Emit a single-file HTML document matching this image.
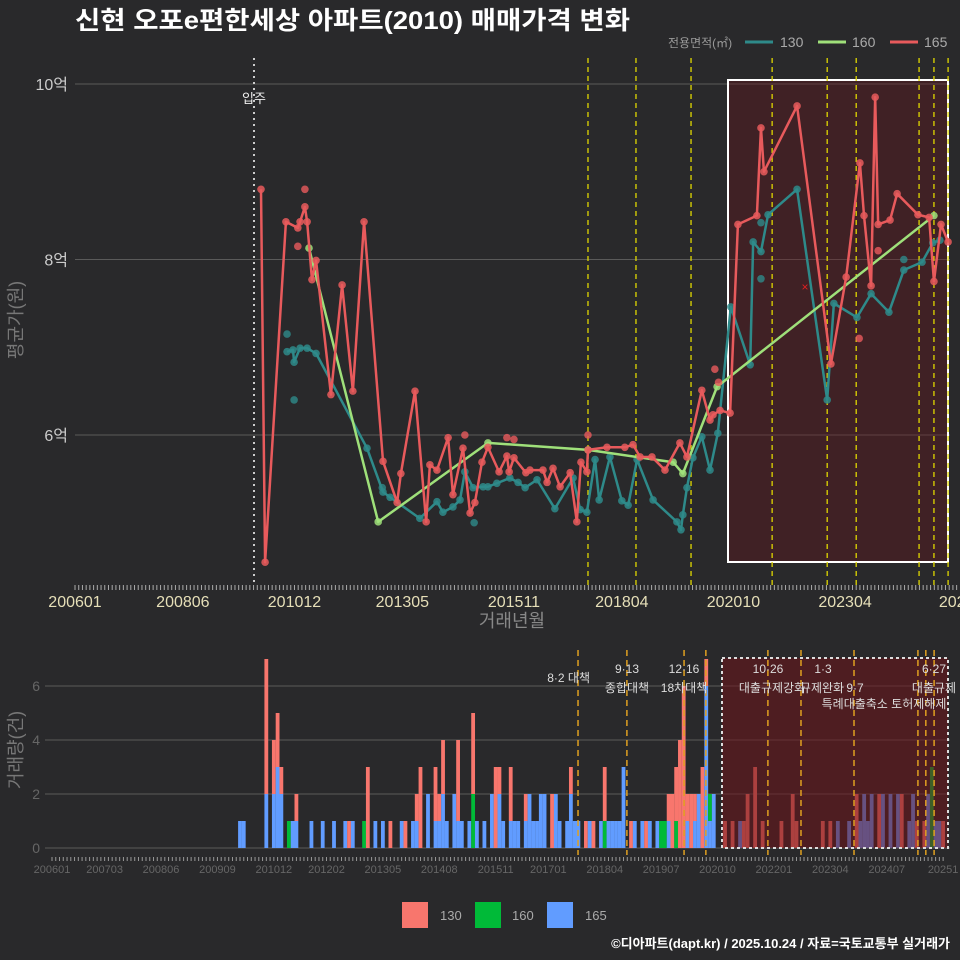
<!DOCTYPE html>
<html><head><meta charset="utf-8">
<style>
body{margin:0;background:#29292b;}
svg{display:block;font-family:"Liberation Sans","Noto Sans CJK KR",sans-serif;}
</style></head>
<body>
<svg id="chart" width="960" height="960" viewBox="0 0 960 960" xmlns="http://www.w3.org/2000/svg">
<rect width="960" height="960" fill="#29292b"/>
<text x="75" y="29" fill="#fff" font-size="25" font-weight="bold" textLength="555" lengthAdjust="spacingAndGlyphs">신현 오포e편한세상 아파트(2010) 매매가격 변화</text>
<g font-size="14">
<text x="668" y="47" fill="#999" font-size="12">전용면적(㎡)</text>
<line x1="745" y1="42" x2="773" y2="42" stroke="#2e8a8a" stroke-width="3"/>
<text x="780" y="47" fill="#aaa">130</text>
<line x1="818" y1="42" x2="846" y2="42" stroke="#9fe07a" stroke-width="3"/>
<text x="852" y="47" fill="#aaa">160</text>
<line x1="890" y1="42" x2="918" y2="42" stroke="#e85a5c" stroke-width="3"/>
<text x="924" y="47" fill="#aaa">165</text>
</g>
<text transform="translate(22,320) rotate(-90)" text-anchor="middle" fill="#777" font-size="18">평균가(원)</text>
<text x="512" y="627" text-anchor="middle" fill="#888" font-size="18">거래년월</text>
<text transform="translate(22,750) rotate(-90)" text-anchor="middle" fill="#777" font-size="18">거래량(건)</text>
<g id="top"></g>
<g id="bot"></g>
<g font-size="13">
<rect x="402" y="902" width="26" height="26" fill="#f8766d"/>
<text x="440" y="920" fill="#aaa">130</text>
<rect x="475" y="902" width="26" height="26" fill="#00ba38"/>
<text x="512" y="920" fill="#aaa">160</text>
<rect x="547" y="902" width="26" height="26" fill="#619cff"/>
<text x="585" y="920" fill="#aaa">165</text>
</g>
<text x="950" y="948" text-anchor="end" fill="#fff" font-size="13" font-weight="bold">©디아파트(dapt.kr) / 2025.10.24 / 자료=국토교통부 실거래가</text>
</svg>
<script>
// months since 2006-01, price in 억
const redMonths=[50.0,51.1,56.7,59.9,60.5,61.8,62.4,63.7,64.8,68.8,71.8,74.7,77.7,82.8,86.6,87.6,91.4,94.4,95.4,97.3,100.3,101.6,104.3,106.2,107.5,109.4,111.0,114.0,116.1,116.7,118.0,121.2,122.3,125.8,126.9,128.5,130.4,133.1,134.9,136.0,137.6,137.9,143.0,147.8,150.0,151.9,155.1,158.6,162.6,164.5,168.5,170.7,171.5,173.4,176.1,178.2,183.3,184.4,185.2,194.1,203.2,207.3,211.0,212.1,214.0,215.1,215.9,219.1,221.0,226.6,229.6,230.9,232.8,234.7];
const redValues=[8.80,4.55,8.43,8.36,8.43,8.60,8.43,7.77,7.99,6.46,7.71,6.50,8.43,5.70,5.23,5.56,6.50,5.01,5.66,5.60,5.97,5.32,5.85,5.11,5.23,5.69,5.86,5.58,5.76,5.58,5.74,5.57,5.60,5.60,5.46,5.62,5.41,5.57,5.01,5.69,5.58,5.83,5.86,5.86,5.89,5.75,5.75,5.60,5.91,5.75,6.51,6.17,6.23,6.28,6.25,8.40,8.50,9.50,9.00,9.75,6.81,7.80,9.10,8.50,7.70,9.85,8.40,8.45,8.75,8.51,8.48,7.75,8.40,8.20];
const redExtraMonths=[61.8,59.9,104.8,116.1,118.0,137.9,172.0,173.0,210.8,215.9];
const redExtraValues=[8.80,8.15,6.00,5.97,5.95,6.00,6.75,6.60,7.10,8.10];
const tealMonths=[57.0,58.6,58.9,60.5,62.4,64.8,78.5,82.8,84.7,92.7,97.3,98.9,101.6,103.5,104.8,107.0,109.7,111.0,113.4,116.9,119.1,121.0,124.2,129.0,133.9,135.8,137.6,139.8,140.9,143.8,147.0,148.7,151.1,155.4,161.8,162.9,163.4,164.5,166.1,168.5,170.7,172.8,176.3,181.5,182.3,184.4,186.3,194.1,202.2,204.0,210.2,214.0,218.8,222.8,227.7,230.6,232.5];
const tealValues=[6.95,6.97,6.83,6.99,6.99,6.93,5.85,5.35,5.29,5.05,5.24,5.12,5.18,5.26,5.58,5.40,5.41,5.41,5.45,5.51,5.46,5.40,5.49,5.16,5.51,5.15,5.12,5.72,5.26,5.75,5.25,5.20,5.72,5.26,5.01,4.92,5.09,5.40,5.74,5.98,5.60,6.02,7.46,6.80,8.20,8.09,8.51,8.80,6.40,7.50,7.34,7.61,7.40,7.88,7.97,8.19,8.22];
const tealExtraMonths=[57.0,58.9,82.6,107.3,184.4,184.4,222.8];
const tealExtraValues=[7.15,6.40,5.40,5.00,7.78,8.42,8.00];
const greenMonths=[62.9,81.5,111.0,137.9,160.8,163.4,172.6,230.9];
const greenValues=[8.13,5.01,5.91,5.83,5.69,5.56,6.55,8.50];
const yTicks=[6,8,10];
const yTickLabels=["6억","8억","10억"];
const xTickMonths=[0,29,59,88,118,147,177,207,237];
const xTickLabels=["200601","200806","201012","201305","201511","201804","202010","202304","2025"];
const eventMonthsTop=[137.9,150.8,165.6,187.4,202.2,210.0,226.9,230.9,234.7];
// volume
const barMonths=[50,51,57,59,60,61,63,64,65,69,72,75,78,79,80,83,84,86,88,90,93,94,96,97,98,100,102,103,104,105,107,108,109,111,112,113,115,117,118,119,120,122,123,124,126,127,128,129,130,131,133,134,135,137,138,139,140,142,143,144,146,147,148,149,150,151,152,154,155,157,158,159,161,162,163,164,165,166,167,168,169,170,171,172,173,174,175,176,179,181,183,184,185,187,189,194,197,198,205,207,209,212,214,215,216,217,218,220,221,223,225,226,228,229,230,232,233,234,235,236,237];
const vol130=[0,0,5,2,2,1,0,0,1,0,0,0,0,1,0,0,3,0,0,1,0,1,0,1,3,0,2,1,2,0,0,3,0,0,3,0,0,0,3,1,0,2,0,0,1,0,0,0,0,0,2,0,0,0,1,0,0,1,0,1,0,2,0,0,0,0,0,1,0,0,1,0,0,0,0,1,2,2,4,6,1,2,1,0,3,1,0,0,1,1,0,1,2,3,1,1,2,1,1,1,0,0,2,0,0,0,0,2,0,0,0,2,0,0,1,1,0,0,0,0,1];
const vol160=[0,0,0,0,0,0,1,0,0,0,0,0,0,0,0,1,0,0,0,0,0,0,0,0,0,0,0,0,0,0,0,0,0,0,2,0,0,0,0,0,0,0,0,0,0,0,0,0,0,0,0,0,0,0,0,0,0,0,0,0,0,1,0,0,0,0,0,0,0,0,0,0,0,1,1,0,0,1,0,0,0,0,0,0,0,0,1,0,0,0,0,0,0,0,0,0,0,0,0,0,0,0,0,0,0,0,0,0,0,0,0,0,0,0,0,0,0,3,0,0,0];
const vol165=[1,1,2,2,3,2,0,1,1,1,1,1,1,0,1,0,0,1,1,0,1,0,1,1,0,2,1,1,2,1,2,1,1,1,0,1,1,2,0,2,1,1,1,1,1,2,1,1,2,2,0,2,1,1,2,1,1,0,1,0,1,0,1,1,1,1,3,0,1,1,0,1,1,0,0,1,0,0,0,0,1,0,1,2,0,6,1,2,0,0,1,0,0,0,0,0,0,0,0,0,1,1,0,1,2,1,2,0,2,2,2,0,1,2,0,0,2,0,1,1,0];
const volTicks=[0,2,4,6];
const eventMonthsBot=[139.9,152.9,168.1,173.9,190.4,199.2,213.3,230.3,232.4,234.6];
const botTickMonths=[0,14,29,44,59,73,88,103,118,132,147,162,177,192,207,222,237];
const botTickLabels=["200601","200703","200806","200909","201012","201202","201305","201408","201511","201701","201804","201907","202010","202201","202304","202407","20251"];

const NS="http://www.w3.org/2000/svg";
function mk(parent,tag,attrs){const e=document.createElementNS(NS,tag);for(const k in attrs)e.setAttribute(k,attrs[k]);parent.appendChild(e);return e;}
const topG=document.getElementById('top'), botG=document.getElementById('bot');
const xT=m=>75+3.72*m, yT=v=>435-(v-6)*87.75;
const xB=m=>52+3.76*m, yB=c=>848-27*c;

yTicks.forEach((t,i)=>{
 let l=mk(topG,'line',{x1:75,x2:950,y1:yT(t),y2:yT(t),stroke:'#5a5a5a','stroke-width':1});
 
 
 let tx=mk(topG,'text',{x:68,y:yT(t)+6,'text-anchor':'end',fill:'#ccc','font-size':16});
 tx.textContent=yTickLabels[i];
 
 
});
let hb=mk(topG,'rect',{x:728,y:80,width:220,height:482,fill:'rgba(110,20,25,0.35)',stroke:'#fff','stroke-width':2});


let mv=mk(topG,'line',{x1:254,x2:254,y1:58,y2:585,stroke:'#ccc','stroke-width':2,'stroke-dasharray':'2,4'});


let mvt=mk(topG,'text',{x:254,y:103,'text-anchor':'middle',fill:'#eee','font-size':13});
mvt.textContent='입주';


eventMonthsTop.forEach(m=>{
 let l=mk(topG,'line',{x1:xT(m),x2:xT(m),y1:58,y2:585,stroke:'#e0d800','stroke-width':1.3,'stroke-dasharray':'5,4'});
 
 
});
for(let m=0;m<=237;m++){
 let l=mk(topG,'line',{x1:xT(m),x2:xT(m),y1:585,y2:590,stroke:'#aaa','stroke-width':1});
 
 
}
xTickMonths.forEach((m,i)=>{
 let t=mk(topG,'text',{x:xT(m),y:607,'text-anchor':'middle',fill:'#e6dfb8','font-size':16});
 t.textContent=xTickLabels[i];
 
 
});
function series(ms,vs,color,name,extraM,extraV){
 const pts=ms.map((m,i)=>xT(m)+','+yT(vs[i])).join(' ');
 let pl=mk(topG,'polyline',{points:pts,fill:'none',stroke:color,'stroke-width':2.5,'stroke-linejoin':'round'});
 
 
 ms.forEach((m,i)=>{
  let c=mk(topG,'circle',{cx:xT(m),cy:yT(vs[i]),r:3.8,fill:color,opacity:0.85});
  
  
 });
 (extraM||[]).forEach((m,i)=>{
  let c=mk(topG,'circle',{cx:xT(m),cy:yT(extraV[i]),r:3.8,fill:color,opacity:0.8});
  
  
 });
}
series(tealMonths,tealValues,'#2e8a8a','series-130',tealExtraMonths,tealExtraValues);
series(greenMonths,greenValues,'#9fe07a','series-160');
series(redMonths,redValues,'#e85a5c','series-165',redExtraMonths,redExtraValues);
let xm=mk(topG,'text',{x:805,y:291,'text-anchor':'middle',fill:'#e02020','font-size':12});
xm.textContent='×';



volTicks.forEach(t=>{
 let l=mk(botG,'line',{x1:45,x2:950,y1:yB(t),y2:yB(t),stroke:'#5a5a5a','stroke-width':1});
 
 
 let tx=mk(botG,'text',{x:40,y:yB(t)+5,'text-anchor':'end',fill:'#666','font-size':14});
 tx.textContent=t;
 
 
});
barMonths.forEach((m,i)=>{
 let base=0;
 [[vol165,'#619cff','bar-165'],[vol160,'#00ba38','bar-160'],[vol130,'#f8766d','bar-130']].forEach(([arr,col,nm])=>{
  const v=arr[i]; if(!v) return;
  let r=mk(botG,'rect',{x:xB(m)-1.9,y:yB(base+v),width:3.8,height:27*v,fill:col});
  
  
  base+=v;
 });
});
let bh=mk(botG,'rect',{x:722,y:658,width:226,height:190,fill:'rgba(110,20,25,0.55)',stroke:'#ddd','stroke-width':2,'stroke-dasharray':'3,3'});


eventMonthsBot.forEach(m=>{
 let l=mk(botG,'line',{x1:xB(m),x2:xB(m),y1:650,y2:855,stroke:'#e0a020','stroke-width':1.5,'stroke-dasharray':'6,4'});
 
 
});
for(let m=0;m<=237;m++){
 let l=mk(botG,'line',{x1:xB(m),x2:xB(m),y1:857,y2:861,stroke:'#999','stroke-width':1});
 
 
}
botTickMonths.forEach((m,i)=>{
 let t=mk(botG,'text',{x:xB(m),y:873,'text-anchor':'middle',fill:'#666','font-size':11});
 t.textContent=botTickLabels[i];
 
 
});
const notes=[[590,682,'end','8·2 대책'],[627,673,'middle','9·13'],[627,692,'middle','종합대책'],[684,673,'middle','12·16'],[684,692,'middle','18차대책'],[768,673,'middle','10·26'],[772,692,'middle','대출규제강화'],[823,673,'middle','1·3'],[822,692,'middle','규제완화'],[855,692,'middle','9·7'],[884,708,'middle','특례대출축소 토허제해제'],[934,673,'middle','6·27'],[934,692,'middle','대출규제']];
notes.forEach(n=>{
 let t=mk(botG,'text',{x:n[0],y:n[1],'text-anchor':n[2],fill:'#ddd','font-size':12});
 t.textContent=n[3];
 
 
});
</script>
</body></html>
